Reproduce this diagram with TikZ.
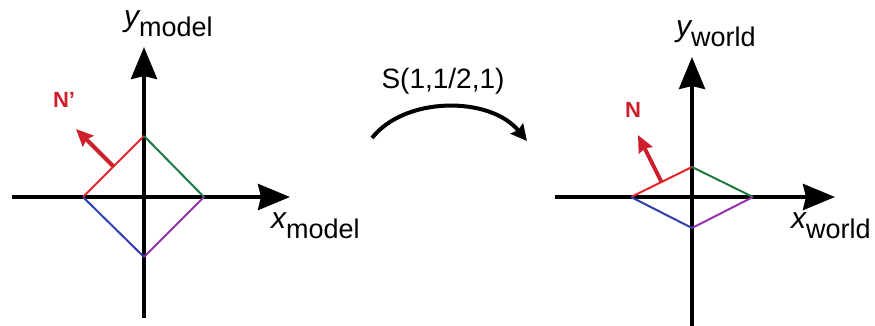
\documentclass[tikz,border=0pt]{standalone}
\usepackage{fontspec}
\setmainfont{Liberation Sans}
\usetikzlibrary{arrows.meta,calc}
\definecolor{nred}{RGB}{205,32,44}
\definecolor{ered}{RGB}{228,38,42}
\definecolor{egreen}{RGB}{30,122,62}
\definecolor{eblue}{RGB}{50,62,170}
\definecolor{epurple}{RGB}{150,50,175}
\newcommand{\sublbl}[1]{\raisebox{-10pt}{\fontsize{27}{30}\selectfont\upshape #1}}
\tikzset{
  axis/.style={line width=4pt,black,-{Stealth[length=32pt,width=26pt,inset=3pt]}},
  edge/.style={line width=2pt},
  normal/.style={line width=4pt,nred,-{Stealth[length=17pt,width=15pt,inset=2pt]}},
  nlabel/.style={text=nred,font=\fontsize{22}{24}\selectfont\bfseries,inner sep=0pt},
  axlabel/.style={anchor=base west,inner sep=0pt,font=\fontsize{30}{32}\selectfont\itshape},
  maplabel/.style={inner sep=0pt,font=\fontsize{28}{30}\selectfont}
}
\begin{document}
\begin{tikzpicture}[x=1pt,y=-1pt]
\useasboundingbox (0,0) rectangle (875,326);
% ---------- left panel ----------
\coordinate (lxs) at (12,197);
\coordinate (lxe) at (290,197);
\coordinate (lys) at (144,318);
\coordinate (lye) at (144,47);
\draw[axis] (lxs) -- (lxe);
\draw[axis] (lys) -- (lye);
\coordinate (lt) at (144,136);
\coordinate (lr) at (204,197);
\coordinate (lb) at (144,257);
\coordinate (ll) at (83,197);
\draw[edge,ered] (ll) -- (lt);
\draw[edge,egreen] (lt) -- (lr);
\draw[edge,epurple] (lr) -- (lb);
\draw[edge,eblue] (lb) -- (ll);
\coordinate (lnb) at ($(ll)!0.5!(lt)$);
\coordinate (lnt) at (76,129);
\draw[normal] (lnb) -- (lnt);
\node[nlabel] (np) at (64,100) {N’};
\node[axlabel] (ym) at (124,27) {y\sublbl{model}};
\node[axlabel] (xm) at (271,228) {x\sublbl{model}};
% ---------- map arrow ----------
\node[maplabel] (s) at (443,81) {S(1,1/2,1)};
\coordinate (as) at (372,138);
\coordinate (ae) at (527,141);
\draw[line width=4pt,-{Stealth[length=16pt,width=16pt,inset=2pt]}] (as) .. controls (405,96) and (490,96) .. (ae);
% ---------- right panel ----------
\coordinate (rxs) at (555,197);
\coordinate (rxe) at (835,197);
\coordinate (rys) at (692,330);
\coordinate (rye) at (692,57);
\draw[axis] (rxs) -- (rxe);
\draw[axis] (rys) -- (rye);
\coordinate (rt) at (692,167);
\coordinate (rr) at (753,197);
\coordinate (rb) at (692,228);
\coordinate (rl) at (631,197);
\draw[edge,ered] (rl) -- (rt);
\draw[edge,egreen] (rt) -- (rr);
\draw[edge,epurple] (rr) -- (rb);
\draw[edge,eblue] (rb) -- (rl);
\coordinate (rnb) at ($(rl)!0.5!(rt)$);
\coordinate (rnt) at (638,135);
\draw[normal] (rnb) -- (rnt);
\node[nlabel] (n) at (633,109.5) {N};
\node[axlabel] (yw) at (676,37) {y\sublbl{world}};
\node[axlabel] (xw) at (791,228) {x\sublbl{world}};
\end{tikzpicture}
\end{document}
